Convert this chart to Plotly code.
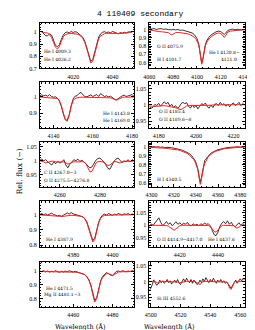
import plotly.graph_objects as go

# ---------------- data ----------------
A_wl = [4004,4005,4006,4007,4008,4009,4010,4011,4012,4013,4014,4015,4016,4017,4018,4019,4020,4021,4022,4023,4024,4025,4026,4027,4028,4029,4030,4031,4032,4033,4034,4035,4036,4037,4038,4039,4040,4041,4042,4043,4044,4045,4046,4047,4048,4049,4050]
A_obs = [1.002,0.985,0.970,0.968,0.985,0.975,0.925,0.890,0.878,0.895,0.940,0.975,0.995,1.000,0.992,1.004,0.996,1.002,0.998,0.985,0.972,0.955,0.920,0.870,0.800,0.758,0.775,0.845,0.915,0.958,0.985,0.998,1.002,0.995,1.000,0.992,1.004,0.998,0.988,0.985,0.995,0.990,0.998,0.992,1.000,0.998,1.001]
A_mod = [1.000,0.998,0.995,0.990,0.978,0.955,0.915,0.875,0.860,0.880,0.925,0.960,0.978,0.985,0.988,0.988,0.987,0.985,0.982,0.976,0.965,0.945,0.910,0.860,0.795,0.745,0.760,0.830,0.900,0.945,0.968,0.980,0.986,0.989,0.990,0.990,0.990,0.989,0.988,0.987,0.987,0.987,0.988,0.990,0.993,0.996,0.999]

B_wl = [4060,4062,4064,4066,4068,4070,4072,4074,4076,4078,4079,4080,4082,4084,4086,4088,4090,4092,4094,4096,4098,4099,4100,4101,4102,4103,4104,4105,4106,4107,4108,4109,4110,4112,4114,4116,4118,4120,4121,4122,4123,4124,4125,4126,4128,4130,4132,4134,4136,4138,4140]
B_obs = [1.015,1.005,1.012,1.000,1.008,1.010,1.002,1.006,0.998,0.992,0.995,1.002,0.995,1.000,0.990,0.993,0.985,0.982,0.970,0.958,0.935,0.915,0.890,0.850,0.790,0.680,0.595,0.650,0.755,0.815,0.860,0.885,0.905,0.935,0.958,0.972,0.980,0.975,0.962,0.948,0.940,0.955,0.975,0.990,0.998,1.004,0.996,1.002,0.998,1.003,1.000]
B_mod = [0.995,0.988,0.982,0.978,0.975,0.973,0.972,0.970,0.962,0.940,0.935,0.945,0.962,0.965,0.963,0.960,0.955,0.948,0.938,0.925,0.905,0.890,0.865,0.830,0.770,0.660,0.580,0.640,0.740,0.800,0.840,0.865,0.885,0.915,0.935,0.950,0.958,0.950,0.935,0.915,0.905,0.925,0.955,0.970,0.980,0.985,0.988,0.990,0.992,0.993,0.995]

C_wl = [4133,4134,4135,4136,4137,4138,4139,4140,4141,4142,4143,4144,4145,4146,4147,4148,4149,4150,4151,4152,4153,4154,4155,4156,4157,4158,4159,4160,4161,4162,4163,4164,4165,4166,4167,4168,4169,4170,4171,4172,4173,4174,4175,4176,4177,4178,4179,4180,4181]
C_obs = [1.005,1.010,1.004,1.008,1.002,1.012,1.000,0.996,0.998,0.990,0.972,0.940,0.895,0.860,0.856,0.890,0.945,0.985,1.002,1.005,1.018,1.025,1.010,1.000,0.998,1.004,1.010,1.000,1.006,1.012,1.000,1.018,1.008,1.000,1.004,0.998,1.002,0.992,0.985,0.980,0.988,0.998,1.004,1.008,1.000,1.004,1.010,1.012,1.000]
C_mod = [0.997,0.996,0.996,0.996,0.996,0.995,0.995,0.994,0.992,0.988,0.975,0.945,0.900,0.860,0.850,0.885,0.940,0.975,0.988,0.993,0.995,0.996,0.996,0.996,0.996,0.996,0.996,0.996,0.996,0.996,0.996,0.996,0.996,0.996,0.995,0.994,0.992,0.987,0.980,0.978,0.983,0.990,0.994,0.996,0.997,0.997,0.997,0.997,0.997]

D_wl = [4175,4176,4177,4178,4179,4180,4181,4182,4183,4184,4185,4186,4187,4188,4189,4190,4191,4192,4193,4194,4195,4196,4197,4198,4199,4200,4201,4202,4203,4204,4205,4206,4207,4208,4209,4210,4211,4212,4213,4214,4215,4216,4217,4218,4219,4220,4221,4222,4223,4224,4225,4226]
D_obs = [0.995,0.990,0.993,1.002,0.998,1.005,0.996,1.004,1.010,1.003,1.008,0.996,1.002,0.992,0.998,0.990,0.994,1.004,1.008,1.004,1.007,0.996,0.990,1.000,0.992,0.998,0.988,0.996,1.004,1.000,1.006,0.995,0.990,1.000,0.992,1.002,1.004,0.998,1.008,1.000,1.004,0.996,1.003,0.994,1.002,1.006,0.998,1.002,1.008,0.998,1.004,1.000]
D_mod = [0.997,0.996,0.995,0.995,0.996,0.997,0.998,0.998,0.998,0.997,0.996,0.995,0.993,0.991,0.992,0.990,0.987,0.986,0.989,0.994,0.997,0.998,0.998,0.998,0.997,0.997,0.998,0.998,0.999,0.999,0.999,0.999,0.999,0.999,1.000,1.000,1.000,1.000,1.000,1.000,1.000,1.000,1.001,1.001,1.001,1.001,1.001,1.001,1.001,1.001,1.001,1.001]

E_wl = [4250,4251,4252,4253,4254,4255,4256,4257,4258,4259,4260,4261,4262,4263,4264,4265,4266,4267,4268,4269,4270,4271,4272,4273,4274,4275,4276,4277,4278,4279,4280,4281,4282,4283,4284,4285,4286,4287,4288,4289,4290,4291,4292,4293,4294,4295,4296,4297]
E_obs = [1.002,1.006,1.000,1.004,0.996,0.990,0.985,0.995,0.990,0.998,0.992,0.996,1.004,0.985,0.975,0.988,0.998,1.004,1.000,1.006,0.998,1.002,0.996,0.988,0.980,0.975,0.978,0.990,1.002,1.008,1.010,1.002,0.996,0.985,0.972,0.970,0.985,0.998,1.006,1.010,1.002,0.994,1.000,0.996,1.004,0.996,1.004,1.000]
E_mod = [1.000,0.999,0.996,0.992,0.995,0.998,0.999,0.998,0.996,0.995,0.996,0.997,0.996,0.993,0.988,0.990,0.995,0.997,0.996,0.995,0.996,0.997,0.996,0.990,0.975,0.960,0.962,0.978,0.992,0.997,0.998,0.997,0.994,0.988,0.983,0.985,0.992,0.997,0.997,0.994,0.992,0.995,0.998,0.999,0.998,0.997,0.998,0.999]

F_wl = [4298,4300,4302,4304,4306,4308,4310,4312,4314,4316,4318,4320,4322,4324,4326,4328,4330,4332,4334,
        4336,4337,4338,4339,4340,4341,4342,4343,4344,4345,4346,4347,4348,4349,4350,4351,4352,
        4354,4356,4358,4360,4362,4364,4366,4368,4370,4372,4374,4376,4378,4380,4382,4384]
F_obs = [1.005,0.998,1.002,0.996,1.000,0.994,0.998,0.990,0.994,0.988,0.990,0.985,0.982,0.975,0.968,0.962,0.952,0.940,0.925,
         0.905,0.890,0.875,0.855,0.830,0.795,0.745,0.670,0.610,0.660,0.740,0.800,0.850,0.862,0.880,0.895,0.910,
         0.932,0.948,0.958,0.968,0.975,0.982,0.985,0.990,0.993,0.996,0.994,0.998,1.000,0.996,1.002,0.998]
F_mod = [0.995,0.992,0.990,0.990,0.988,0.986,0.985,0.984,0.982,0.980,0.977,0.974,0.970,0.965,0.958,0.950,0.940,0.927,0.910,
         0.888,0.875,0.860,0.840,0.815,0.780,0.730,0.650,0.585,0.640,0.720,0.775,0.815,0.845,0.868,0.885,0.900,
         0.922,0.938,0.950,0.960,0.967,0.973,0.978,0.982,0.985,0.988,0.990,0.991,0.992,0.993,0.994,0.995]

G_wl = [4363,4364,4365,4366,4367,4368,4369,4370,4371,4372,4373,4374,4375,4376,4377,4378,4379,4380,4381,4382,4383,4384,4385,4386,4387,4388,4389,4390,4391,4392,4393,4394,4395,4396,4397,4398,4399,4400,4401,4402,4403,4404,4405,4406,4407,4408,4409,4410,4411]
G_obs = [1.000,1.005,0.998,1.004,0.996,1.002,1.008,1.000,0.995,0.990,0.994,0.988,0.995,1.004,1.010,1.002,1.012,1.004,1.000,0.996,0.990,0.988,0.984,0.972,0.950,0.910,0.862,0.830,0.845,0.900,0.950,0.980,0.995,1.002,0.996,1.006,1.000,0.994,1.002,0.998,1.006,1.000,0.996,1.004,1.000,1.006,0.998,1.002,1.000]
G_mod = [0.997,0.996,0.996,0.995,0.994,0.994,0.993,0.992,0.990,0.988,0.986,0.985,0.986,0.990,0.993,0.994,0.994,0.994,0.993,0.992,0.990,0.988,0.982,0.970,0.945,0.905,0.855,0.820,0.835,0.890,0.945,0.975,0.988,0.993,0.995,0.996,0.996,0.996,0.996,0.996,0.997,0.997,0.997,0.997,0.997,0.997,0.998,0.998,0.998]

H_wl = [4404,4405,4406,4407,4408,4409,4410,4411,4412,4413,4414,4415,4416,4417,4418,4419,4420,4421,4422,4423,4424,4425,4426,4427,4428,4429,4430,4431,4432,4433,4434,4435,4436,4437,4438,4439,4440,4441,4442,4443,4444,4445,4446,4447,4448,4449,4450,4451,4452,4453,4454]
H_obs = [0.995,1.005,1.000,1.010,1.018,1.030,1.012,0.998,1.006,1.015,1.004,1.010,0.998,1.008,1.014,1.004,1.010,1.002,1.008,1.004,1.012,1.000,0.998,1.006,1.000,1.004,0.998,1.006,1.002,1.008,1.004,1.006,0.998,0.980,0.962,0.958,0.972,0.995,1.008,1.015,1.006,1.018,1.004,1.012,1.000,0.994,1.004,1.010,1.000,1.006,1.002]
H_mod = [1.000,1.000,1.000,1.000,1.000,1.000,1.000,1.000,1.000,0.999,0.996,0.990,0.983,0.980,0.985,0.993,0.998,1.000,1.000,1.000,1.000,1.000,1.000,1.000,1.000,1.000,1.000,1.000,1.000,1.000,1.000,0.999,0.995,0.985,0.975,0.972,0.980,0.992,0.998,1.000,1.000,1.000,1.000,1.000,0.998,0.993,0.988,0.992,0.998,1.000,1.000]

I_wl = [4443,4444,4445,4446,4447,4448,4449,4450,4451,4452,4453,4454,4455,4456,4457,4458,4459,4460,4461,4462,4463,4464,4465,4466,4467,4468,4469,4470,4471,4472,4473,4474,4475,4476,4477,4478,4479,4480,4481,4482,4483,4484,4485,4486,4487,4488,4489,4490,4491]
I_obs = [1.002,0.998,1.004,0.996,1.002,0.994,1.000,0.996,1.004,0.998,0.992,1.000,0.994,1.002,0.996,1.004,0.998,0.994,1.000,0.995,0.992,0.988,0.984,0.975,0.960,0.938,0.900,0.840,0.785,0.808,0.875,0.930,0.962,0.980,0.990,0.982,0.972,0.970,0.985,0.998,1.002,0.996,1.004,1.000,0.996,1.002,0.998,1.004,1.000]
I_mod = [0.998,0.998,0.998,0.998,0.998,0.998,0.998,0.997,0.997,0.997,0.997,0.997,0.996,0.996,0.996,0.995,0.995,0.994,0.993,0.992,0.990,0.987,0.982,0.973,0.958,0.935,0.895,0.830,0.775,0.800,0.870,0.925,0.955,0.972,0.982,0.984,0.975,0.968,0.975,0.988,0.994,0.996,0.997,0.997,0.998,0.998,0.998,0.998,0.998]

J_wl = [4499,4500,4501,4502,4503,4504,4505,4506,4507,4508,4509,4510,4511,4512,4513,4514,4515,4516,4517,4518,4519,4520,4521,4522,4523,4524,4525,4526,4527,4528,4529,4530,4531,4532,4533,4534,4535,4536,4537,4538,4539,4540,4541,4542,4543,4544,4545,4546,4547,4548,4549,4550,4551,4552,4553,4554,4555,4556,4557,4558,4559,4560,4561,4562,4563]
J_obs = [0.972,0.978,0.990,1.005,0.995,0.988,0.992,1.004,0.996,1.002,0.994,0.998,1.006,0.996,1.002,0.992,0.998,1.004,0.996,1.006,0.994,0.990,1.000,1.008,0.998,1.010,1.002,0.996,1.006,0.994,1.004,0.998,0.990,0.994,1.004,0.996,1.008,1.000,1.012,1.004,0.996,1.006,0.998,1.010,1.000,0.994,1.004,0.998,1.006,0.996,1.002,0.994,0.998,0.990,0.982,0.978,0.988,0.998,1.004,0.994,1.000,1.008,1.002,1.010,1.004]
J_mod = [1.000,1.000,1.000,1.000,0.999,0.996,0.994,0.997,1.000,1.000,1.000,1.000,1.000,1.000,0.999,0.999,1.000,1.000,1.000,0.998,0.995,0.996,0.999,1.000,1.000,1.000,1.000,1.000,1.000,1.000,1.000,0.999,0.996,0.992,0.990,0.994,0.999,1.000,1.000,1.000,1.000,1.000,1.000,1.000,1.000,0.999,0.998,0.999,1.000,1.000,1.000,1.000,0.998,0.990,0.978,0.975,0.985,0.996,1.000,1.000,1.000,1.000,1.000,1.000,1.000]

# panel axis ranges (x: wavelength, y: relative flux) and y tick step
X_RANGES = [[4003,4051],[4060,4140],[4133,4181],[4175,4226],[4250,4297],
            [4298,4384],[4363,4411],[4404,4454],[4443,4491],[4499,4563]]
Y_RANGES = [[0.70,1.075],[0.53,1.08],[0.81,1.086],[0.929,1.07],[0.905,1.068],
            [0.553,1.055],[0.789,1.086],[0.913,1.097],[0.737,1.07],[0.918,1.0625]]
Y_DTICK = [0.1,0.1,0.1,0.05,0.05,0.1,0.1,0.05,0.1,0.05]

LINE_LABELS = [
    ["He I 4009.3", "He I 4026.2"],
    ["O II 4075.9", "H I 4101.7", "He I 4120.8−", "4121.0"],
    ["He I 4143.8", "He I 4169.0"],
    ["O II 4185.4", "O II 4189.6−8"],
    ["C II 4267.0−3", "O II 4275.5−4276.8"],
    ["H I 4340.5"],
    ["He I 4387.9"],
    ["O II 4414.9−4417.0", "He I 4437.6"],
    ["He I 4471.5", "Mg II 4481.1−3"],
    ["Si III 4552.6"],
]

TITLE = "4 110409 secondary"
XLABEL = "Wavelength (Å)"
YLABEL = "Rel. flux (−)"

panels = [(A_wl,A_obs,A_mod),(B_wl,B_obs,B_mod),(C_wl,C_obs,C_mod),(D_wl,D_obs,D_mod),
          (E_wl,E_obs,E_mod),(F_wl,F_obs,F_mod),(G_wl,G_obs,G_mod),(H_wl,H_obs,H_mod),
          (I_wl,I_obs,I_mod),(J_wl,J_obs,J_mod)]
for k,(w,o,m) in enumerate(panels):
    assert len(w)==len(o)==len(m), (k,len(w),len(o),len(m))

# ---------------- layout ----------------
W, H = 255, 330
def fx(p): return p / W
def fy(p): return 1 - p / H

COLS = [(27, 126), (142, 242)]
ROWS = [(15, 61), (75, 121), (135, 181), (195, 241), (256, 302)]

TICKFONT = dict(family="Liberation Serif", size=6, color="black")
LABFONT = dict(family="DejaVu Serif", size=4.5, color="black")

fig = go.Figure()
layout = dict(width=W, height=H, margin=dict(l=0, r=0, t=0, b=0),
              paper_bgcolor="white", plot_bgcolor="white", showlegend=False)

for i, (w, o, m) in enumerate(panels):
    r, c = divmod(i, 2)
    n = i + 1
    xs = "x" if n == 1 else f"x{n}"
    ys = "y" if n == 1 else f"y{n}"
    fig.add_trace(go.Scatter(x=w, y=o, mode="lines", line=dict(color="black", width=0.8),
                             xaxis=xs, yaxis=ys, hoverinfo="skip"))
    fig.add_trace(go.Scatter(x=w, y=m, mode="lines", line=dict(color="#ff2020", width=1),
                             xaxis=xs, yaxis=ys, hoverinfo="skip"))
    x0, x1 = COLS[c]
    t, b = ROWS[r]
    xspan = X_RANGES[i][1] - X_RANGES[i][0]
    layout["xaxis" + ("" if n == 1 else str(n))] = dict(
        domain=[fx(x0), fx(x1)], anchor=ys, range=X_RANGES[i], dtick=20, tick0=0,
        ticks="inside", ticklen=3, tickwidth=0.6, tickcolor="black",
        minor=dict(dtick=(2 if xspan < 60 else 5), ticks="inside", ticklen=1.5,
                   tickwidth=0.5, tickcolor="black"),
        showline=True, linecolor="black", linewidth=0.8, mirror="ticks",
        showgrid=False, zeroline=False, tickfont=TICKFONT, ticklabelstandoff=2)
    layout["yaxis" + ("" if n == 1 else str(n))] = dict(
        domain=[fy(b), fy(t)], anchor=xs, range=Y_RANGES[i], dtick=Y_DTICK[i], tick0=0,
        ticks="inside", ticklen=3, tickwidth=0.6, tickcolor="black",
        minor=dict(dtick=Y_DTICK[i] / 5, ticks="inside", ticklen=1.5,
                   tickwidth=0.5, tickcolor="black"),
        showline=True, linecolor="black", linewidth=0.8, mirror="ticks",
        showgrid=False, zeroline=False, tickfont=TICKFONT, ticklabelstandoff=1)

ann = []
def add(text, xp, yp, xa="left", ya="middle", font=LABFONT, angle=0):
    ann.append(dict(text=text, x=fx(xp), y=fy(yp), xref="paper", yref="paper",
                    xanchor=xa, yanchor=ya, showarrow=False, font=font, textangle=angle))

add(TITLE, 133, 6, "center", "middle", dict(family="Liberation Mono", size=8, color="black"))
add(XLABEL, 70, 321, "center", "middle", dict(family="DejaVu Serif", size=6.5, color="black"))
add(XLABEL, 163, 321, "center", "middle", dict(family="DejaVu Serif", size=6.5, color="black"))
add(YLABEL, 6, 165, "center", "middle", dict(family="DejaVu Serif", size=7.5, color="black"), -90)

L = LINE_LABELS
add(L[0][0], 29, 44); add(L[0][1], 29, 52)
add(L[1][0], 148, 39); add(L[1][1], 148, 52)
add(L[1][2], 239, 45, "right"); add(L[1][3], 236, 52, "right")
add(L[2][0], 124, 106.5, "right"); add(L[2][1], 124, 113.5, "right")
add(L[3][0], 150, 104); add(L[3][1], 150, 112.5)
add(L[4][0], 29, 166); add(L[4][1], 29, 174)
add(L[5][0], 148, 173.5)
add(L[6][0], 32, 234)
add(L[7][0], 148, 234); add(L[7][1], 234, 234, "right")
add(L[8][0], 31, 283); add(L[8][1], 29, 289)
add(L[9][0], 148, 293)

layout["annotations"] = ann
fig.update_layout(**layout)
fig.write_html("out.html")
